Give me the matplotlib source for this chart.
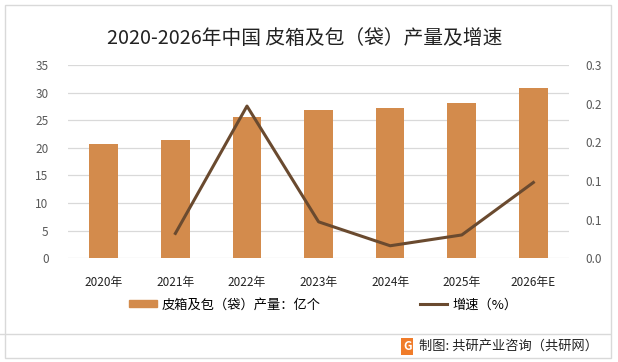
import numpy as np
import matplotlib
matplotlib.use('Agg')
from matplotlib import pyplot as plt
from matplotlib.patches import Rectangle
from matplotlib.lines import Line2D

plt.rcParams['font.family'] = ['Noto Sans CJK SC', 'DejaVu Sans']

# ---------- Data
years = ['2020年', '2021年', '2022年', '2023年', '2024年', '2025年', '2026年E']
output = [20.7, 21.4, 25.6, 26.9, 27.2, 28.1, 30.8]          # 亿个
growth = [None, 0.032, 0.197, 0.047, 0.016, 0.030, 0.098]    # 增速
right_ticks = [0, 0.05, 0.10, 0.15, 0.20, 0.25]
right_labels = ['0.0', '0.1', '0.1', '0.2', '0.2', '0.3']

bar_color = '#D38B4C'
line_color = '#6A4A2F'

fig = plt.figure(figsize=(6.18, 3.62), dpi=100)
ax = fig.add_axes([0.110, 0.287, 0.811, 0.533])
x = np.arange(len(years))

ax.bar(x, output, width=0.4, color=bar_color, zorder=2)
ax.set_ylim(0, 35)
ax.set_yticks(range(0, 36, 5))
ax.set_xlim(-0.5, len(years) - 0.5)
ax.set_xticks(x)
ax.set_xticklabels(years, fontsize=8.5, color='#222222')
ax.grid(axis='y', color='#d9d9d9', linewidth=0.9, zorder=0)
ax.tick_params(axis='y', length=0, labelsize=8.5, labelcolor='#595959', pad=14)
ax.tick_params(axis='x', length=0, pad=13)
for s in ax.spines.values():
    s.set_visible(False)

ax2 = ax.twinx()
gx = [i for i, g in zip(x, growth) if g is not None]
gy = [g for g in growth if g is not None]
ax2.plot(gx, gy, color=line_color, linewidth=2.2, zorder=3)
ax2.set_ylim(0, 0.25)
ax2.set_yticks(right_ticks)
ax2.set_yticklabels(right_labels)
ax2.tick_params(axis='y', length=0, labelsize=8.5, labelcolor='#595959', pad=12)
for s in ax2.spines.values():
    s.set_visible(False)

# ---------- Title
fig.text(0.493, 0.895, '2020-2026年中国 皮箱及包（袋）产量及增速', ha='center', va='center',
         fontsize=14.2, color='#222222')

# ---------- Legend
handles = [Rectangle((0, 0), 1, 1, color=bar_color),
           Line2D([0], [0], color=line_color, linewidth=2.2)]
fig.legend(handles, ['皮箱及包（袋）产量：亿个', '增速（%）'], loc='center',
           bbox_to_anchor=(0.523, 0.158), ncol=2, frameon=False, fontsize=9.5,
           handlelength=2.1, handleheight=0.5, columnspacing=7.5, handletextpad=0.35)

# ---------- Footer
fig.add_artist(Line2D([0.0, 0.987], [0.078, 0.078], color='#d9d9d9', linewidth=1,
                      transform=fig.transFigure))
fig.text(0.968, 0.043, '制图: 共研产业咨询（共研网）', ha='right', va='center',
         fontsize=9.5, color='#222222')
fig.text(0.659, 0.043, 'G', ha='center', va='center', fontsize=8.5, color='white',
         fontweight='bold',
         bbox=dict(boxstyle='square,pad=0.15', facecolor='#F07C2A', edgecolor='none'))

# ---------- Border
fig.add_artist(Rectangle((0.008, 0.012), 0.981, 0.975, fill=False, edgecolor='#d9d9d9',
                         linewidth=1, transform=fig.transFigure))

fig.savefig('out.png', dpi=100)
